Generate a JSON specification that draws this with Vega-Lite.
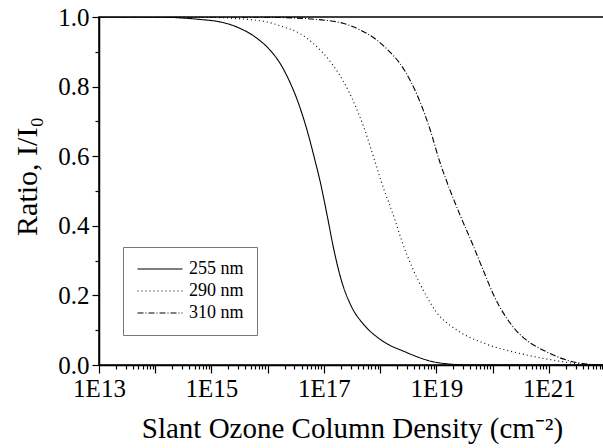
{
  "$schema": "https://vega.github.io/schema/vega-lite/v6.json",
  "autosize": "none",
  "padding": {"left": 99, "top": 17, "right": 0, "bottom": 83},
  "width": 506,
  "height": 348,
  "config": {
    "font": "Liberation Serif, Times New Roman, serif",
    "view": {"stroke": "black", "strokeWidth": 1.5},
    "axis": {"grid": false, "domainColor": "black", "tickColor": "black", "labelColor": "black", "titleColor": "black", "labelFont": "Liberation Serif, Times New Roman, serif", "titleFont": "Liberation Serif, Times New Roman, serif", "titleFontWeight": "normal", "domainWidth": 1.5, "tickWidth": 1.2},
    "legend": {"labelFont": "Liberation Serif, Times New Roman, serif"}
  },
  "data": {"values": [
    {"N": 1e13, "I": 1.0, "s": "255 nm"},
    {"N": 1e14, "I": 1.0, "s": "255 nm"},
    {"N": 2.5e14, "I": 0.998, "s": "255 nm"},
    {"N": 6.17e14, "I": 0.993, "s": "255 nm"},
    {"N": 1.41e15, "I": 0.986, "s": "255 nm"},
    {"N": 3.16e15, "I": 0.968, "s": "255 nm"},
    {"N": 6.31e15, "I": 0.940, "s": "255 nm"},
    {"N": 1.10e16, "I": 0.905, "s": "255 nm"},
    {"N": 1.66e16, "I": 0.867, "s": "255 nm"},
    {"N": 2.4e16, "I": 0.818, "s": "255 nm"},
    {"N": 3.39e16, "I": 0.760, "s": "255 nm"},
    {"N": 4.79e16, "I": 0.686, "s": "255 nm"},
    {"N": 6.92e16, "I": 0.589, "s": "255 nm"},
    {"N": 8.51e16, "I": 0.530, "s": "255 nm"},
    {"N": 1.175e17, "I": 0.420, "s": "255 nm"},
    {"N": 1.445e17, "I": 0.345, "s": "255 nm"},
    {"N": 2.04e17, "I": 0.244, "s": "255 nm"},
    {"N": 3.09e17, "I": 0.168, "s": "255 nm"},
    {"N": 5.01e17, "I": 0.118, "s": "255 nm"},
    {"N": 9.77e17, "I": 0.075, "s": "255 nm"},
    {"N": 2.95e18, "I": 0.036, "s": "255 nm"},
    {"N": 8.71e18, "I": 0.0095, "s": "255 nm"},
    {"N": 1.95e19, "I": 0.002, "s": "255 nm"},
    {"N": 4e19, "I": 0.0, "s": "255 nm"},
    {"N": 1e22, "I": 0.0, "s": "255 nm"},

    {"N": 1e13, "I": 1.0, "s": "290 nm"},
    {"N": 1e14, "I": 1.0, "s": "290 nm"},
    {"N": 1e15, "I": 0.999, "s": "290 nm"},
    {"N": 2.4e15, "I": 0.996, "s": "290 nm"},
    {"N": 9.55e15, "I": 0.986, "s": "290 nm"},
    {"N": 1.86e16, "I": 0.972, "s": "290 nm"},
    {"N": 3.72e16, "I": 0.953, "s": "290 nm"},
    {"N": 6.46e16, "I": 0.924, "s": "290 nm"},
    {"N": 9.77e16, "I": 0.896, "s": "290 nm"},
    {"N": 1.445e17, "I": 0.862, "s": "290 nm"},
    {"N": 2.24e17, "I": 0.814, "s": "290 nm"},
    {"N": 3.47e17, "I": 0.752, "s": "290 nm"},
    {"N": 5.37e17, "I": 0.674, "s": "290 nm"},
    {"N": 8.13e17, "I": 0.584, "s": "290 nm"},
    {"N": 1.05e18, "I": 0.527, "s": "290 nm"},
    {"N": 1.82e18, "I": 0.419, "s": "290 nm"},
    {"N": 2.4e18, "I": 0.359, "s": "290 nm"},
    {"N": 3.89e18, "I": 0.273, "s": "290 nm"},
    {"N": 5.89e18, "I": 0.214, "s": "290 nm"},
    {"N": 1e19, "I": 0.152, "s": "290 nm"},
    {"N": 2.29e19, "I": 0.101, "s": "290 nm"},
    {"N": 7.76e19, "I": 0.060, "s": "290 nm"},
    {"N": 3.09e20, "I": 0.033, "s": "290 nm"},
    {"N": 1.2e21, "I": 0.014, "s": "290 nm"},
    {"N": 3.55e21, "I": 0.003, "s": "290 nm"},
    {"N": 6.3e21, "I": 0.0, "s": "290 nm"},
    {"N": 1e22, "I": 0.0, "s": "290 nm"},

    {"N": 1e13, "I": 1.0, "s": "310 nm"},
    {"N": 1e15, "I": 1.0, "s": "310 nm"},
    {"N": 1e16, "I": 0.999, "s": "310 nm"},
    {"N": 3.16e16, "I": 0.997, "s": "310 nm"},
    {"N": 7.41e16, "I": 0.993, "s": "310 nm"},
    {"N": 2.19e17, "I": 0.982, "s": "310 nm"},
    {"N": 4.37e17, "I": 0.963, "s": "310 nm"},
    {"N": 8.71e17, "I": 0.934, "s": "310 nm"},
    {"N": 1.48e18, "I": 0.900, "s": "310 nm"},
    {"N": 2.24e18, "I": 0.867, "s": "310 nm"},
    {"N": 3.39e18, "I": 0.819, "s": "310 nm"},
    {"N": 5.13e18, "I": 0.756, "s": "310 nm"},
    {"N": 7.76e18, "I": 0.676, "s": "310 nm"},
    {"N": 1.15e19, "I": 0.584, "s": "310 nm"},
    {"N": 1.51e19, "I": 0.530, "s": "310 nm"},
    {"N": 2.69e19, "I": 0.428, "s": "310 nm"},
    {"N": 4.47e19, "I": 0.345, "s": "310 nm"},
    {"N": 6.76e19, "I": 0.274, "s": "310 nm"},
    {"N": 1.02e20, "I": 0.205, "s": "310 nm"},
    {"N": 1.35e20, "I": 0.166, "s": "310 nm"},
    {"N": 1.78e20, "I": 0.135, "s": "310 nm"},
    {"N": 2.63e20, "I": 0.099, "s": "310 nm"},
    {"N": 3.98e20, "I": 0.072, "s": "310 nm"},
    {"N": 9.12e20, "I": 0.038, "s": "310 nm"},
    {"N": 2.09e21, "I": 0.014, "s": "310 nm"},
    {"N": 5.37e21, "I": 0.002, "s": "310 nm"},
    {"N": 1e22, "I": 0.0, "s": "310 nm"}
  ]},
  "layer": [
    {
      "mark": {"type": "line", "color": "black", "strokeWidth": 1.1, "interpolate": "monotone", "clip": true},
      "encoding": {
        "x": {"field": "N", "type": "quantitative",
              "scale": {"type": "log", "domain": [1e13, 1e22], "nice": false},
              "axis": {"orient": "bottom", "values": [1e13, 1e14, 1e15, 1e16, 1e17, 1e18, 1e19, 1e20, 1e21, 1e22],
                       "labelExpr": "round(log(datum.value)/LN10) % 2 == 1 ? '1E' + round(log(datum.value)/LN10) : ''",
                       "tickSize": 8, "labelPadding": 3, "labelFontSize": 25, "labelFlush": false, "labelOverlap": false,
                       "title": "Slant Ozone Column Density (cm⁻²)", "titleFontSize": 29,
                       "titleBaseline": "alphabetic", "titleY": 72}},
        "y": {"field": "I", "type": "quantitative",
              "scale": {"domain": [0, 1], "nice": false, "zero": true},
              "axis": {"orient": "left", "values": [0, 0.2, 0.4, 0.6, 0.8, 1.0], "format": ".1f",
                       "tickSize": 7, "labelPadding": 3, "labelFontSize": 25,
                       "title": "Ratio, I/I₀", "titleFontSize": 30, "titleAngle": -90,
                       "titleAlign": "center", "titleBaseline": "alphabetic", "titleX": -63, "titleY": 159}},
        "strokeDash": {"field": "s", "type": "nominal",
                       "scale": {"domain": ["255 nm", "290 nm", "310 nm"], "range": [[1, 0], [1, 3], [6, 2, 1, 2]]},
                       "legend": {"title": null, "orient": "none", "legendX": 24, "legendY": 230,
                                  "symbolType": "M-3,0H3", "symbolSize": 225, "symbolStrokeWidth": 1.1, "symbolStrokeColor": "black",
                                  "symbolOffset": 15, "labelOffset": 20,
                                  "labelFontSize": 18, "labelColor": "black",
                                  "strokeColor": "#777", "padding": 13, "rowPadding": 4}}
      }
    },
    {
      "mark": {"type": "line", "opacity": 0},
      "encoding": {
        "x": {"field": "N", "type": "quantitative",
              "axis": {"orient": "bottom", "values": [2e13,3e13,4e13,5e13,6e13,7e13,8e13,9e13,2e14,3e14,4e14,5e14,6e14,7e14,8e14,9e14,2e15,3e15,4e15,5e15,6e15,7e15,8e15,9e15,2e16,3e16,4e16,5e16,6e16,7e16,8e16,9e16,2e17,3e17,4e17,5e17,6e17,7e17,8e17,9e17,2e18,3e18,4e18,5e18,6e18,7e18,8e18,9e18,2e19,3e19,4e19,5e19,6e19,7e19,8e19,9e19,2e20,3e20,4e20,5e20,6e20,7e20,8e20,9e20,2e21,3e21,4e21,5e21,6e21,7e21,8e21,9e21],
                       "labels": false, "domain": false, "tickSize": 4, "title": null}},
        "y": {"field": "I", "type": "quantitative",
              "axis": {"orient": "left", "values": [0.1, 0.3, 0.5, 0.7, 0.9], "labels": false, "domain": false, "tickSize": 4, "title": null}},
        "detail": {"field": "s"}
      }
    }
  ],
  "resolve": {"axis": {"x": "independent", "y": "independent"}}
}
